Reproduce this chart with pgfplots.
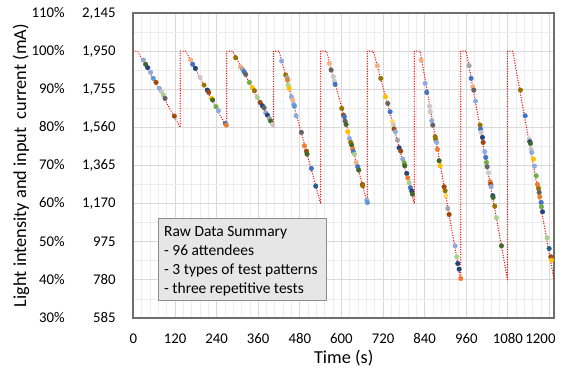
\documentclass[border=0pt]{standalone}
\usepackage{fontspec}
\setmainfont{Carlito}
\usepackage{pgfplots}
\pgfplotsset{compat=1.18}

% Office-style series colours
\definecolor{cA}{HTML}{4472C4}
\definecolor{cB}{HTML}{ED7D31}
\definecolor{cC}{HTML}{A5A5A5}
\definecolor{cD}{HTML}{FFC000}
\definecolor{cE}{HTML}{5B9BD5}
\definecolor{cF}{HTML}{70AD47}
\definecolor{cG}{HTML}{264478}
\definecolor{cH}{HTML}{9E480E}
\definecolor{cI}{HTML}{636363}
\definecolor{cJ}{HTML}{997300}
\definecolor{cK}{HTML}{8FAADC}
\definecolor{cL}{HTML}{F4B183}
\definecolor{cM}{HTML}{C9C9C9}
\definecolor{cN}{HTML}{A9D18E}
\definecolor{cO}{HTML}{43682B}
\definecolor{cP}{HTML}{255E91}
\definecolor{cQ}{HTML}{FFD966}
\definecolor{gridmajor}{HTML}{D9D9D9}
\definecolor{gridminor}{HTML}{EDEDED}
\definecolor{frame}{HTML}{6E6E6E}
\definecolor{boxfill}{HTML}{E7E6E6}
\definecolor{boxline}{HTML}{8C8C8C}

% Target profile: 100% hold, linear ramp down, reset
\pgfplotstableread{
t p
0 100
12 100
135 80
135 100
151 100
269 80
269 100
286 100
404 80
404 100
420 100
540 60
540 100
557 100
675 60
675 100
692 100
810 60
810 100
827 100
944 40
944 100
960 100
1079 40
1079 100
1094 100
1213 40
}\profile

% Individual readings (time, level, colour class)
\pgfplotstableread{
t p c
28.7 97.66 K
35.4 96.53 O
41.2 95.65 G
49.8 94.43 K
57.5 92.85 E
65.2 91.80 H
74.8 90.23 K
81.6 89.35 M
86.3 88.48 N
91.2 87.60 I
118.1 82.96 H
165.2 97.66 L
171.0 96.53 A
178.7 95.48 G
192.1 93.12 M
203.7 91.10 J
213.3 89.79 G
217.2 89.18 H
225.8 87.60 D
228.7 87.17 O
238.3 85.41 F
245.0 84.36 K
265.2 81.04 A
268.0 80.60 B
295.0 98.28 J
308.5 95.91 L
314.3 95.30 C
319.1 94.60 A
323.9 93.90 I
334.5 91.80 F
343.1 90.40 D
348.9 89.61 J
357.6 87.87 N
365.2 86.55 H
372.0 85.68 G
376.8 85.15 I
381.6 83.84 K
386.4 83.23 G
392.2 82.35 C
396.0 81.65 O
401.8 80.78 M
427.7 97.40 K
439.3 93.73 J
443.1 93.03 C
444.5 92.41 B
446.0 91.10 N
448.9 90.23 D
455.6 88.04 K
459.5 87.17 L
462.4 86.03 K
464.3 85.59 E
469.1 83.05 K
484.5 78.68 I
493.2 75.18 B
498.9 73.78 H
500.8 72.99 O
513.3 69.23 A
525.8 64.59 P
565.3 96.79 L
570.1 95.04 I
576.8 93.29 M
579.7 92.15 M
581.6 91.28 A
600.9 84.98 J
605.7 83.23 H
608.5 82.79 A
610.5 81.65 I
613.4 80.78 O
618.2 78.85 D
623.0 77.10 K
626.8 76.05 J
629.7 75.35 O
632.6 74.30 B
634.5 73.60 A
637.4 72.99 N
642.2 70.81 L
647.0 69.67 A
649.9 68.79 O
660.5 65.03 H
661.4 64.68 J
673.0 60.92 K
674.9 60.30 E
703.7 96.18 L
713.4 92.85 J
726.8 88.04 D
733.6 86.29 I
740.3 84.10 A
747.0 81.48 Q
749.9 80.60 M
751.8 79.55 H
755.7 78.85 K
761.5 76.67 C
766.3 74.65 G
771.1 73.78 H
776.8 71.68 K
780.7 70.72 F
782.6 69.93 O
788.4 67.92 G
791.3 66.78 B
795.1 65.47 N
798.9 64.16 A
802.8 63.28 G
804.7 62.49 O
829.7 97.66 L
841.3 91.54 K
846.1 89.18 A
853.8 85.59 M
855.7 84.10 M
860.5 81.74 K
863.4 80.60 I
870.1 77.54 J
872.0 76.84 J
874.9 76.05 K
876.8 74.22 B
881.7 71.24 O
884.5 69.93 D
896.1 64.42 H
899.0 63.37 J
900.9 62.06 Q
906.7 58.73 C
910.5 57.16 H
927.8 48.93 K
932.6 46.05 N
935.5 44.30 G
939.4 42.81 G
944.2 40.36 B
968.2 96.18 C
974.0 92.85 A
978.8 90.66 L
981.7 89.79 I
986.5 86.90 K
999.9 80.60 J
1000.9 79.55 A
1002.8 78.68 M
1006.7 77.37 G
1008.6 76.05 H
1013.4 73.60 K
1016.3 72.11 A
1018.2 70.81 F
1020.1 69.67 I
1024.0 68.09 M
1028.8 65.73 B
1030.7 65.03 H
1031.7 64.42 K
1036.5 62.06 G
1037.4 61.62 O
1042.2 59.34 J
1047.1 56.28 N
1061.5 48.93 O
1116.3 89.79 J
1129.8 83.05 A
1141.3 76.93 M
1143.2 76.23 G
1145.2 75.79 O
1147.1 74.30 M
1149.0 73.43 K
1153.8 71.68 D
1156.7 69.84 K
1161.5 67.30 F
1165.4 65.03 B
1168.3 63.98 J
1170.2 62.93 I
1172.1 61.79 B
1176.0 60.31 A
1176.9 59.17 F
1179.8 57.86 G
1193.3 51.03 N
1199.0 48.23 P
1203.8 46.05 H
1205.8 45.17 D
}\readings

\newcommand{\yl}[2]{#1\makebox[51pt][r]{#2}}

\begin{document}
\begin{tikzpicture}
\path[use as bounding box] (-133.4pt,-49pt) rectangle (431.6pt,318pt);
\begin{axis}[
  scale only axis,
  width=420.6pt, height=305pt,
  xmin=0, xmax=1213, ymin=30, ymax=110,
  xtick={0,120,...,1200},
  xticklabels={0,120,240,360,480,600,720,840,960,1080,{1200\hspace*{18pt}}},
  ytick={30,40,...,110},
  yticklabels={{\yl{30\%}{585}},{\yl{40\%}{780}},{\yl{50\%}{975}},{\yl{60\%}{1,170}},{\yl{70\%}{1,365}},{\yl{80\%}{1,560}},{\yl{90\%}{1,755}},{\yl{100\%}{1,950}},{\yl{110\%}{2,145}}},
  minor x tick num=4,
  minor y tick num=1,
  grid=both,
  major grid style={draw=gridmajor, line width=0.8pt},
  minor grid style={draw=gridminor, line width=0.8pt},
  major tick length=0pt, minor tick length=0pt,
  axis line style={draw=frame, line width=1.8pt},
  tick label style={font=\fontsize{14.8}{17}\selectfont},
  xticklabel style={anchor=base, inner sep=0pt, yshift=-25pt},
  yticklabel style={anchor=east, inner sep=0pt, xshift=-17.5pt},
  xlabel={Time (s)},
  ylabel={Light intensity and input\ \ current (mA)},
  every axis x label/.style={at={(axis description cs:0.5,0)}, anchor=base, yshift=-45pt,
    font=\fontsize{18.3}{20}\selectfont},
  every axis y label/.style={at={([xshift=-112.4pt]axis description cs:0,0.5)}, rotate=90, anchor=center,
    font=\fontsize{18.3}{20}\selectfont},
  clip=true,
]
\addplot[color=red, line width=1.4pt, line cap=round, dash pattern=on 0.01pt off 2.5pt] table[x=t, y=p] {\profile};
\addplot[scatter, only marks, mark=*, mark size=2.3pt,
  point meta=explicit symbolic,
  scatter/classes={
    A={mark=*,fill=cA,draw=cA}, B={mark=*,fill=cB,draw=cB},
    C={mark=*,fill=cC,draw=cC}, D={mark=*,fill=cD,draw=cD},
    E={mark=*,fill=cE,draw=cE}, F={mark=*,fill=cF,draw=cF},
    G={mark=*,fill=cG,draw=cG}, H={mark=*,fill=cH,draw=cH},
    I={mark=*,fill=cI,draw=cI}, J={mark=*,fill=cJ,draw=cJ},
    K={mark=*,fill=cK,draw=cK}, L={mark=*,fill=cL,draw=cL},
    M={mark=*,fill=cM,draw=cM}, N={mark=*,fill=cN,draw=cN},
    O={mark=*,fill=cO,draw=cO}, P={mark=*,fill=cP,draw=cP},
    Q={mark=*,fill=cQ,draw=cQ}}]
  table[x=t, y=p, meta=c] {\readings};
% summary box
\draw[draw=boxline, fill=boxfill, line width=0.8pt]
  (axis cs:71.8,56.1) rectangle (axis cs:557.7,34.67);
\node[anchor=north west, inner sep=0pt, align=left,
  font=\fontsize{15.5}{18.9}\selectfont]
  at (axis cs:88.3,54.0)
  {Raw Data Summary\\- 96 attendees\\- 3 types of test patterns\\- three repetitive tests};
\end{axis}
\end{tikzpicture}
\end{document}
